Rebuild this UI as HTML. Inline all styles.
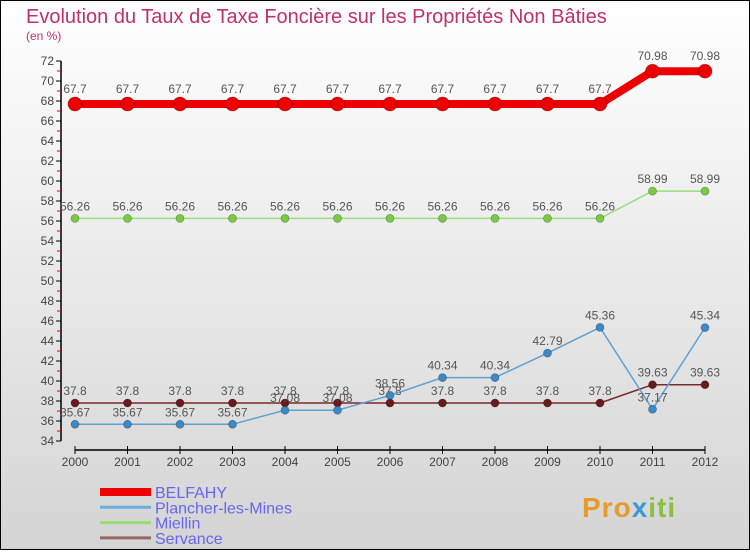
<!DOCTYPE html>
<html><head><meta charset="utf-8"><style>
html,body{margin:0;padding:0}
body{width:750px;height:550px;overflow:hidden;font-family:"Liberation Sans",sans-serif}
svg text{font-family:"Liberation Sans",sans-serif}
</style></head><body>
<svg id="chart" width="750" height="550" xmlns="http://www.w3.org/2000/svg">
<defs>
<linearGradient id="bg" x1="0" y1="0" x2="0" y2="1"><stop offset="0" stop-color="#ffffff"/><stop offset="1" stop-color="#d4d4d4"/></linearGradient>
</defs>
<rect x="0.5" y="0.5" width="749" height="549" fill="url(#bg)" stroke="#000"/>
<text x="26" y="23" font-size="20" fill="#c0306a">Evolution du Taux de Taxe Foncière sur les Propriétés Non Bâties</text>
<text x="26" y="40" font-size="12" fill="#c0306a">(en %)</text>
<g id="axes"></g>
<g id="series"></g>
<g id="legend"></g>
<text x="582" y="517" font-size="28" font-weight="bold" fill="#e89a2a" letter-spacing="1">Pro<tspan fill="#3a9ad9">x</tspan><tspan fill="#88c040">iti</tspan></text>
</svg>
<script>
const years=[2000,2001,2002,2003,2004,2005,2006,2007,2008,2009,2010,2011,2012];
const belfahy=[67.7,67.7,67.7,67.7,67.7,67.7,67.7,67.7,67.7,67.7,67.7,70.98,70.98];
const plancher=[35.67,35.67,35.67,35.67,37.08,37.08,38.56,40.34,40.34,42.79,45.36,37.17,45.34];
const miellin=[56.26,56.26,56.26,56.26,56.26,56.26,56.26,56.26,56.26,56.26,56.26,58.99,58.99];
const servance=[37.8,37.8,37.8,37.8,37.8,37.8,37.8,37.8,37.8,37.8,37.8,39.63,39.63];
const yTicks=[34,36,38,40,42,44,46,48,50,52,54,56,58,60,62,64,66,68,70,72];
const seriesNames=["BELFAHY","Plancher-les-Mines","Miellin","Servance"];
const NS="http://www.w3.org/2000/svg";
const xs=i=>75+i*52.5;
const ys=v=>441-(v-34)*10;
function mk(tag,attrs,parent){const e=document.createElementNS(NS,tag);for(const k in attrs)e.setAttribute(k,attrs[k]);parent.appendChild(e);return e;}
const axes=document.getElementById('axes');
let yl=mk('line',{x1:61,y1:ys(72),x2:61,y2:ys(34),stroke:'#000','stroke-width':1.5},axes);


yTicks.forEach(v=>{
  let t=mk('line',{x1:56,x2:61,y1:ys(v),y2:ys(v),stroke:'#000'},axes);
  
  
  if(v<72){let m=mk('line',{x1:57,x2:61,y1:ys(v+1),y2:ys(v+1),stroke:'#e00'},axes);
    
    }
  let l=mk('text',{x:54,y:ys(v)+4,'text-anchor':'end','font-size':12,fill:'#444'},axes);
  l.textContent=v;
  
  
});
let xl=mk('line',{x1:75,x2:705,y1:450,y2:450,stroke:'#000','stroke-width':1.5},axes);


years.forEach((y,i)=>{
  let t=mk('line',{x1:xs(i),x2:xs(i),y1:446,y2:454,stroke:'#000'},axes);
  
  
  let l=mk('text',{x:xs(i),y:466,'text-anchor':'middle','font-size':12,fill:'#444'},axes);
  l.textContent=y;
  
  
});
const sg=document.getElementById('series');
function drawSeries(data,color,w,r,name,fill){
  const g=mk('g',{},sg);
  
  
  let p=mk('polyline',{points:data.map((v,i)=>xs(i)+','+ys(v)).join(' '),fill:'none',stroke:color,'stroke-width':w,'stroke-linejoin':'round'},g);
  
  
  data.forEach((v,i)=>{
    let c=mk('circle',{cx:xs(i),cy:ys(v),r:r,fill:fill,stroke:'rgba(0,0,0,0.3)','stroke-width':0.8},g);
    
    
    let t=mk('text',{x:xs(i),y:ys(v)-(r+4),'text-anchor':'middle','font-size':12,fill:'#555'},g);
    t.textContent=String(v);
    
    
  });
}
drawSeries(servance,'#7a2a2a',1.5,4,'servance','#6a1a1a');
drawSeries(plancher,'#5fa0d0',1.5,4,'plancher-les-mines','#3a8ac8');
drawSeries(miellin,'#99dd77',1.5,4,'miellin','#77cc44');
drawSeries(belfahy,'#ee0000',8,7,'belfahy','#ee0000');
const lg=document.getElementById('legend');
const lcol=['#ee0000','#6ab0dd','#99dd77','#996666'];
const lw=[8,3,3,3];
seriesNames.forEach((n,i)=>{
  const y=492+i*15.3;
  let l=mk('line',{x1:100,x2:151,y1:y,y2:y,stroke:lcol[i],'stroke-width':lw[i]},lg);
  
  
  let t=mk('text',{x:155,y:y+6,'font-size':16,fill:'#6666ee'},lg);
  t.textContent=n;
  
  
});
</script>
</body></html>
